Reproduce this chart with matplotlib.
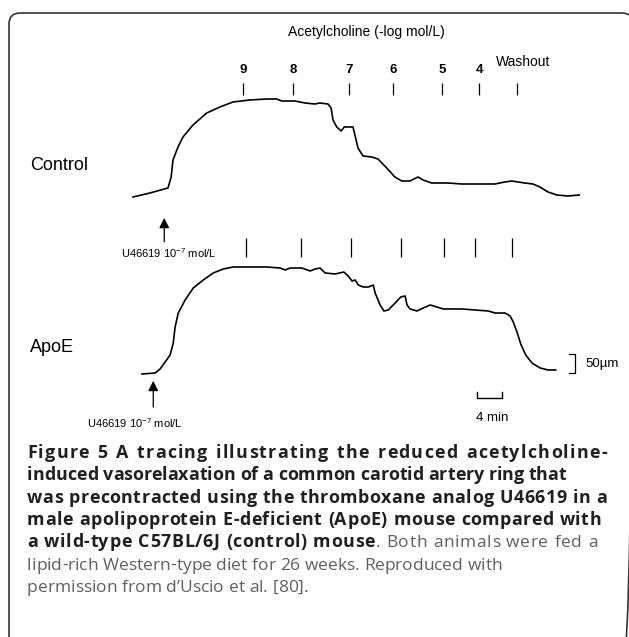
import matplotlib
matplotlib.use('Agg')
import matplotlib.pyplot as plt
from matplotlib.patches import FancyBboxPatch

plt.rcParams['font.family'] = ['Liberation Sans', 'DejaVu Sans']
plt.rcParams['mathtext.fontset'] = 'custom'
plt.rcParams['mathtext.rm'] = 'Liberation Sans'

# Control trace: time (min) from start, diameter change (um)
control_t = [0, 2.7, 5.6, 6.1, 6.4, 7.2, 8.0, 9.6, 11.8, 13.9, 16.0, 18.7, 21.4, 23.0,
             23.8, 25.9, 27.5, 29.1, 29.9, 31.2, 31.7, 32.0, 32.6, 33.3, 33.8, 35.2,
             35.7, 36.0, 36.8, 38.2, 39.2, 40.6, 41.9, 43.0, 44.3, 45.6, 46.4, 47.8,
             50.4, 52.6, 57.9, 59.5, 60.6, 62.7, 64.0, 65.1, 66.4, 67.8, 69.6, 71.4]
control_d = [0, 10.5, 23.7, 52.6, 97.4, 131.6, 157.9, 189.5, 221.1, 236.8, 250, 255.3, 257.9, 257.9,
             252.6, 252.6, 247.4, 244.7, 247.4, 244.7, 234.2, 202.6, 184.2, 173.7, 184.2, 184.2,
             150, 128.9, 107.9, 105.3, 100, 76.3, 52.6, 42.1, 42.1, 52.6, 44.7, 36.8,
             36.8, 34.2, 34.2, 39.5, 42.1, 36.8, 34.2, 26.3, 13.2, 5.3, 2.6, 5.3]

# ApoE trace
apoe_t = [0, 2.1, 2.9, 3.7, 4.5, 5.0, 5.3, 5.8, 6.9, 8.2, 9.8, 11.4, 13.0, 14.6, 20.0,
          22.1, 22.9, 23.7, 25.6, 26.9, 27.7, 28.5, 29.3, 30.9, 32.3, 33.0, 33.6, 34.1,
          34.6, 35.4, 36.2, 37.0, 37.3, 38.1, 38.7, 39.4, 40.5, 41.4, 42.1, 42.4, 42.9,
          44.0, 45.0, 46.1, 47.2, 48.2, 51.2, 53.3, 55.4, 56.5, 58.1, 58.9, 59.4, 60.0,
          60.6, 61.4, 62.4, 63.7, 65.0, 66.2]
apoe_d = [0, 2.6, 13.2, 31.6, 50, 81.6, 123.7, 160.5, 194.7, 226.3, 247.4, 265.8, 276.3, 281.6, 281.6,
          278.9, 273.7, 278.9, 278.9, 271.1, 276.3, 278.9, 265.8, 263.2, 268.4, 257.9, 244.7, 247.4,
          234.2, 228.9, 228.9, 234.2, 213.2, 181.6, 165.8, 168.4, 186.8, 202.6, 205.3, 181.6, 171.1,
          165.8, 173.7, 181.6, 176.3, 171.1, 171.1, 168.4, 165.8, 160.5, 160.5, 152.6, 136.8, 110.5,
          78.9, 50, 28.9, 15.8, 10.5, 10.5]

# acetylcholine additions (-log mol/L) and washout, min
ach_labels = ['9', '8', '7', '6', '5', '4']
control_adds = [17.6, 25.6, 34.6, 41.6, 49.4, 55.4, 61.4]
apoe_adds = [16.6, 25.4, 33.4, 41.4, 48.3, 53.3, 59.2]
# U46619 addition times
control_u46619 = 5.0
apoe_u46619 = 1.8

# caption lines as (text, bold) pieces
caption_lines = [
    [('Figure 5 A tracing illustrating the reduced acetylcholine-', True)],
    [('induced vasorelaxation of a common carotid artery ring that', True)],
    [('was precontracted using the thromboxane analog U46619 in a', True)],
    [('male apolipoprotein E-deficient (ApoE) mouse compared with', True)],
    [('a wild-type C57BL/6J (control) mouse', True), ('. Both animals were fed a', False)],
    [('lipid-rich Western-type diet for 26 weeks. Reproduced with', False)],
    [('permission from d\u2019Uscio et al. [80].', False)],
]
caption_right = [607, None, 607, 601, 598, None, None]

fig = plt.figure(figsize=(6.29, 6.37), dpi=100)

# page overlay in pixels
page = fig.add_axes([0, 0, 1, 1])
page.set_xlim(0, 629)
page.set_ylim(637, 0)
page.axis('off')

# trace axes: 4 min = 25 px, 50 um = 19 px
ax_c = fig.add_axes([0, 0, 1, 1])
ax_c.set_xlim(-21.28, 79.36)
ax_c.set_ylim(-1157.9, 518.4)
ax_c.axis('off')

ax_a = fig.add_axes([0, 0, 1, 1])
ax_a.set_xlim(-22.72, 77.92)
ax_a.set_ylim(-692.1, 984.2)
ax_a.axis('off')

frame = FancyBboxPatch((9, 13), 624, 660, boxstyle='round,pad=0,rounding_size=11',
                       fc='none', ec='#333333', lw=1.2, clip_on=False)
page.add_patch(frame)

ax_c.plot(control_t, control_d, color='black', lw=1.2)
ax_a.plot(apoe_t, apoe_d, color='black', lw=1.2)

# addition marks
ax_c.vlines(control_adds, 268, 300, color='black', lw=0.9)
ax_a.vlines(apoe_adds, 308, 358, color='black', lw=0.9)
for t, lab in zip(control_adds, ach_labels):
    ax_c.text(t, 334, lab, ha='center', va='center', fontsize=9.5, fontweight='bold')
page.text(496, 62, 'Washout', ha='left', va='center', fontsize=10)
page.text(366, 32, 'Acetylcholine (-log mol/L)', ha='center', va='center', fontsize=10)

page.text(30, 166, 'Control', ha='left', va='center', fontsize=13)
page.text(30, 347, 'ApoE', ha='left', va='center', fontsize=13)

arrow = dict(arrowstyle='-|>,head_length=0.6,head_width=0.3', color='black',
             lw=0.9, shrinkA=0, shrinkB=0)
ax_c.annotate('', xy=(control_u46619, -55), xytext=(control_u46619, -118), arrowprops=arrow)
ax_a.annotate('', xy=(apoe_u46619, -18), xytext=(apoe_u46619, -87), arrowprops=arrow)
page.text(121, 253, 'U46619 10$^{-7}$ mol/L', ha='left', va='center', fontsize=8)
page.text(87, 423, 'U46619 10$^{-7}$ mol/L', ha='left', va='center', fontsize=8)

# scale bars
ax_a.plot([68.3, 69.3, 69.3, 68.3], [2.6, 2.6, 52.6, 52.6], color='black', lw=0.9)
page.text(585, 364, '50\u00b5m', ha='left', va='center', fontsize=9.5)
ax_a.plot([53.6, 53.6, 57.6, 57.6], [-47, -63, -63, -47], color='black', lw=1.0)
page.text(492, 418, '4 min', ha='center', va='center', fontsize=9.5)

# caption, drawn glyph by glyph so justified lines can be spread out
cap_font = ['Open Sans', 'DejaVu Sans']
renderer = fig.canvas.get_renderer()


def cap_style(bold):
    if bold:
        return dict(fontsize=12.9, fontweight='bold', family=cap_font, color='#231f20')
    return dict(fontsize=12.5, family=cap_font, color='#5f5f61')


def text_width(s, bold):
    if not s:
        return 0.0
    t = page.text(0, 0, s, **cap_style(bold))
    w = t.get_window_extent(renderer).width
    t.remove()
    return w


x0, y0, dy = 27, 458, 22.3
for i, pieces in enumerate(caption_lines):
    tokens = []
    for text, bold in pieces:
        for j, word in enumerate(text.split(' ')):
            if j == 0 and tokens and not text.startswith(' '):
                tokens[-1].append((word, bold))
            else:
                tokens.append([(word, bold)])
    widths = [sum(text_width(w, b) for w, b in tok) for tok in tokens]
    n_letter = sum(sum(len(w) for w, b in tok) - 1 for tok in tokens)
    n_word = len(tokens) - 1
    space = text_width('x x', pieces[0][1]) - text_width('xx', pieces[0][1])
    ls = 0.0
    if caption_right[i] is not None:
        natural = sum(widths) + n_word * space
        ls = (caption_right[i] - x0 - natural) / (n_letter + 3 * n_word)
    y = y0 + i * dy
    x = x0
    for tok in tokens:
        k = 0
        for w, b in tok:
            for c in range(len(w)):
                page.text(x + text_width(w[:c], b) + k * ls, y, w[c], ha='left',
                          va='baseline', **cap_style(b))
                k += 1
            x += text_width(w, b)
        x += (k - 1) * ls + space + 3 * ls

fig.savefig('out.png', dpi=100)
